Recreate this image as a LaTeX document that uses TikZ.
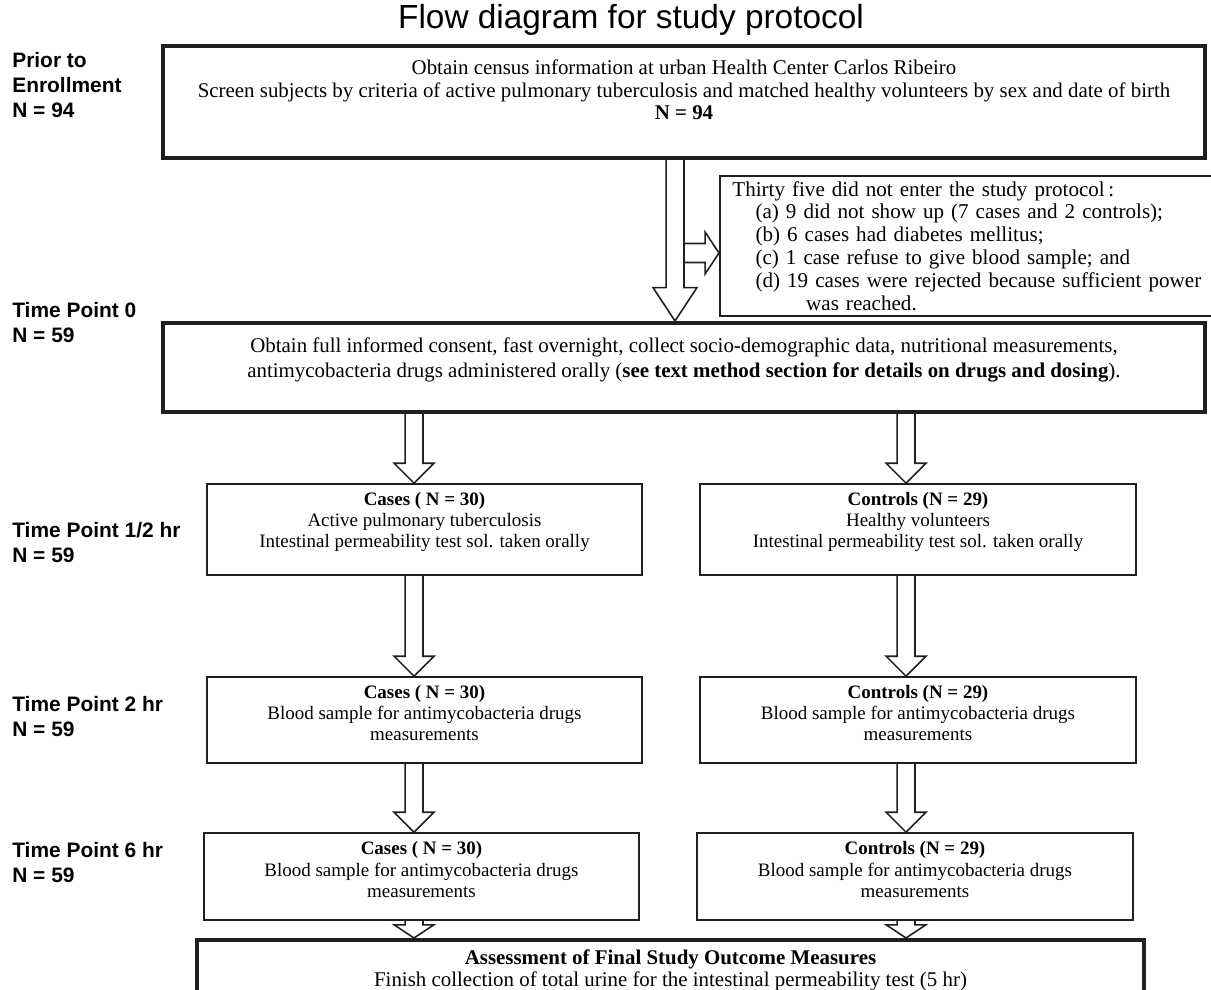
\documentclass[tikz,border=0pt]{standalone}
\usepackage{fontspec}
\setmainfont{Liberation Serif}
\setsansfont{Liberation Sans}
\usetikzlibrary{calc}

% hollow block arrows: #1 start, #2 end, #3 shaft half width, #4 head half width, #5 head length
\newcommand{\blockdown}[5]{%
  \draw[blockarrow] let \p1=(#1), \p2=(#2) in
    (\x1-#3,\y1) -- (\x1-#3,\y2+#5) -- (\x1-#4,\y2+#5) -- (\x1,\y2)
    -- (\x1+#4,\y2+#5) -- (\x1+#3,\y2+#5) -- (\x1+#3,\y1);}
\newcommand{\blockright}[5]{%
  \draw[blockarrow] let \p1=(#1), \p2=(#2) in
    (\x1,\y1+#3) -- (\x2-#5,\y1+#3) -- (\x2-#5,\y1+#4) -- (\x2,\y1)
    -- (\x2-#5,\y1-#4) -- (\x2-#5,\y1-#3) -- (\x1,\y1-#3);}

\tikzset{
  thickbox/.style={draw=black!88, line width=2.3pt, align=center, inner sep=0pt},
  thinbox/.style={draw=black!88, line width=1pt, align=center, inner sep=0pt},
  timelabel/.style={anchor=north west, align=left, inner sep=0pt,
    font=\sffamily\bfseries\fontsize{11.9}{14.2}\selectfont},
  blockarrow/.style={draw=black!88, line width=0.9pt, line join=miter},
  bigtext/.style={font=\fontsize{11.9}{12.6}\selectfont},
}

\begin{document}
\begin{tikzpicture}[x=0.02cm, y=-0.02cm, font=\fontsize{10.8}{12}\selectfont]
	\useasboundingbox (0,0) rectangle (1211,990);
	\node (title) at (631,20) [font=\sffamily\fontsize{19}{22}\selectfont] {Flow diagram for study protocol};

	% time labels
	\node (lblPrior) at (12,52)  [timelabel] {Prior to\\Enrollment\\N = 94};
	\node (lblT0)    at (12,302) [timelabel] {Time Point 0\\N = 59};
	\node (lblT05)   at (12,522) [timelabel] {Time Point 1/2 hr\\N = 59};
	\node (lblT2)    at (12,696) [timelabel] {Time Point 2 hr\\N = 59};
	\node (lblT6)    at (12,842) [timelabel] {Time Point 6 hr\\N = 59};

	% boxes
	\node (census) at (684,102) [thickbox, bigtext, minimum width=20.84cm, minimum height=2.24cm, text depth=14pt]
		{Obtain census information at urban Health Center Carlos Ribeiro\\
		 Screen subjects by criteria of active pulmonary tuberculosis and matched healthy volunteers by sex and date of birth\\
		 \textbf{N = 94}};
	\node (excl) at (719,175) [thinbox, anchor=north west, align=left, minimum width=10cm, minimum height=2.8cm,
		text width=9.5cm, inner xsep=0.25cm, font=\fontsize{12}{13}\selectfont]
		{Thirty five did not enter the study protocol\,:\\
		 \hspace*{1.1em}(a) 9 did not show up (7 cases and 2 controls);\\
		 \hspace*{1.1em}(b) 6 cases had diabetes mellitus;\\
		 \hspace*{1.1em}(c) 1 case refuse to give blood sample; and\\
		 \hspace*{1.1em}(d) 19 cases were rejected because sufficient power\\
		 \hspace*{3.5em}was reached.};
	\node (time0) at (684,367.5) [thickbox, minimum width=20.84cm, minimum height=1.78cm, text depth=11pt,
		font=\fontsize{11.9}{14.5}\selectfont]
		{Obtain full informed consent, fast overnight, collect socio-demographic data, nutritional measurements,\\
		 antimycobacteria drugs administered orally (\textbf{see text method section for details on drugs and dosing}).};
	\node (cases1) at (424.5,529.5) [thinbox, minimum width=8.7cm, minimum height=1.82cm, text depth=11pt]
		{\textbf{Cases ( N = 30)}\\Active pulmonary tuberculosis\\Intestinal permeability test sol. taken orally};
	\node (controls1) at (918,529.5) [thinbox, minimum width=8.72cm, minimum height=1.82cm, text depth=11pt]
		{\textbf{Controls (N = 29)}\\Healthy volunteers\\Intestinal permeability test sol. taken orally};
	\node (cases2) at (424.5,720) [thinbox, minimum width=8.7cm, minimum height=1.72cm, text depth=8pt]
		{\textbf{Cases ( N = 30)}\\Blood sample for antimycobacteria drugs\\measurements};
	\node (controls2) at (918,720) [thinbox, minimum width=8.72cm, minimum height=1.72cm, text depth=8pt]
		{\textbf{Controls (N = 29)}\\Blood sample for antimycobacteria drugs\\measurements};
	\node (cases3) at (421.5,876.5) [thinbox, minimum width=8.7cm, minimum height=1.74cm, text depth=8pt]
		{\textbf{Cases ( N = 30)}\\Blood sample for antimycobacteria drugs\\measurements};
	\node (controls3) at (915,876.5) [thinbox, minimum width=8.72cm, minimum height=1.74cm, text depth=8pt]
		{\textbf{Controls (N = 29)}\\Blood sample for antimycobacteria drugs\\measurements};
	\node (final) at (670.5,938) [thickbox, anchor=north, minimum width=18.94cm, inner ysep=5.8pt, text depth=60pt,
		font=\fontsize{11.9}{12}\selectfont]
		{\textbf{Assessment of Final Study Outcome Measures}\\
		 Finish collection of total urine for the intestinal permeability test (5 hr)};

	% arrow columns
	\coordinate (colM) at (675,0);
	\coordinate (colL) at (414,0);
	\coordinate (colR) at (906,0);
	\coordinate (branch) at (684,253);

	\blockdown{census.south -| colM}{time0.north -| colM}{5.1pt}{12.5pt}{19pt}
	\blockright{branch}{excl.west |- branch}{5.4pt}{11.9pt}{7.9pt}
	\blockdown{time0.south -| colL}{cases1.north -| colL}{5.1pt}{11.3pt}{11.3pt}
	\blockdown{time0.south -| colR}{controls1.north -| colR}{5.1pt}{11.3pt}{11.3pt}
	\blockdown{cases1.south -| colL}{cases2.north -| colL}{5.1pt}{11.3pt}{11.3pt}
	\blockdown{controls1.south -| colR}{controls2.north -| colR}{5.1pt}{11.3pt}{11.3pt}
	\blockdown{cases2.south -| colL}{cases3.north -| colL}{5.1pt}{11.3pt}{11.3pt}
	\blockdown{controls2.south -| colR}{controls3.north -| colR}{5.1pt}{11.3pt}{11.3pt}
	\blockdown{cases3.south -| colL}{final.north -| colL}{5.1pt}{11.3pt}{7.5pt}
	\blockdown{controls3.south -| colR}{final.north -| colR}{5.1pt}{11.3pt}{7.5pt}
\end{tikzpicture}
\end{document}
